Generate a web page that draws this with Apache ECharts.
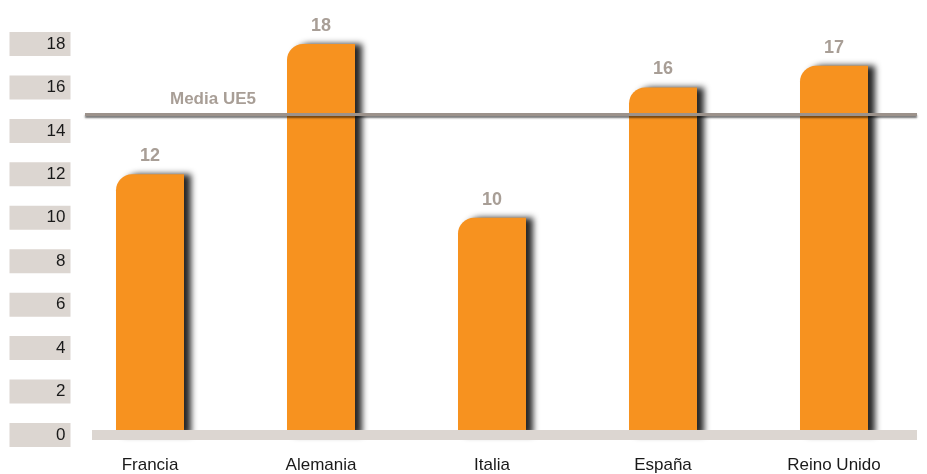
<!DOCTYPE html>
<html>
<head>
<meta charset="utf-8">
<script src="https://cdn.jsdelivr.net/npm/echarts@6/dist/echarts.min.js"></script>
<style>
  html, body { margin: 0; padding: 0; background: #ffffff; }
  #chart { width: 927px; height: 474px; }
</style>
</head>
<body>
<div id="chart"></div>
<script>
// Countries and their values
const countries = ['Francia', 'Alemania', 'Italia', 'España', 'Reino Unido'];
const values = [12, 18, 10, 16, 17];
// EU-5 average reference line
const averageLabel = 'Media UE5';
const averageValue = 14.75;
// Y axis ticks
const yTicks = [0, 2, 4, 6, 8, 10, 12, 14, 16, 18];

const FONT = '"Liberation Sans", Arial, Helvetica, sans-serif';
const BEIGE = '#dcd6d1';
const chart = echarts.init(document.getElementById('chart'));

chart.setOption({
  animation: false,
  backgroundColor: '#ffffff',
  grid: { left: 64.5, right: 7.5, top: 44, bottom: 39, containLabel: false },
  xAxis: {
    type: 'category',
    data: countries,
    axisLine: { show: false },
    axisTick: { show: false },
    axisLabel: { color: '#1a1a1a', fontSize: 17, fontFamily: FONT, margin: 22 }
  },
  yAxis: {
    type: 'value',
    min: yTicks[0],
    max: yTicks[yTicks.length - 1],
    interval: 2,
    splitLine: { show: false },
    axisLine: { show: false },
    axisTick: { show: false },
    axisLabel: {
      margin: -6,
      color: '#1a1a1a',
      fontSize: 17,
      fontFamily: FONT,
      backgroundColor: BEIGE,
      width: 52,
      lineHeight: 18,
      padding: [3, 5, 3, 4],
      align: 'right'
    }
  },
  series: [{
    type: 'bar',
    data: values,
    barWidth: 68,
    z: 2,
    itemStyle: {
      color: '#f7921f',
      borderRadius: [16, 0, 0, 0],
      shadowColor: 'rgba(0,0,0,0.85)',
      shadowOffsetX: 7,
      shadowOffsetY: 0,
      shadowBlur: 6
    },
    label: {
      show: true,
      position: 'top',
      distance: 9,
      color: '#a89e96',
      fontSize: 18,
      fontWeight: 'bold',
      fontFamily: FONT
    },
    markLine: {
      silent: true,
      symbol: 'none',
      z: 5,
      lineStyle: {
        type: 'solid',
        color: '#9c928b',
        width: 3,
        shadowColor: 'rgba(0,0,0,0.55)',
        shadowOffsetY: 2,
        shadowBlur: 2
      },
      label: {
        show: true,
        position: 'insideStartTop',
        formatter: averageLabel,
        color: '#a89e96',
        fontSize: 17,
        fontWeight: 'bold',
        fontFamily: FONT,
        distance: [85, 7]
      },
      data: [[
        { x: 85, yAxis: averageValue },
        { x: 917, yAxis: averageValue }
      ]]
    }
  }]
});

// Beige floor strip along the zero line, drawn over the bar bases
const zeroY = chart.convertToPixel({ yAxisIndex: 0 }, 0);
chart.setOption({
  graphic: [{
    type: 'rect',
    z: 10,
    shape: { x: 92, y: zeroY - 5, width: 825, height: 10 },
    style: { fill: BEIGE }
  }]
});
</script>
</body>
</html>
